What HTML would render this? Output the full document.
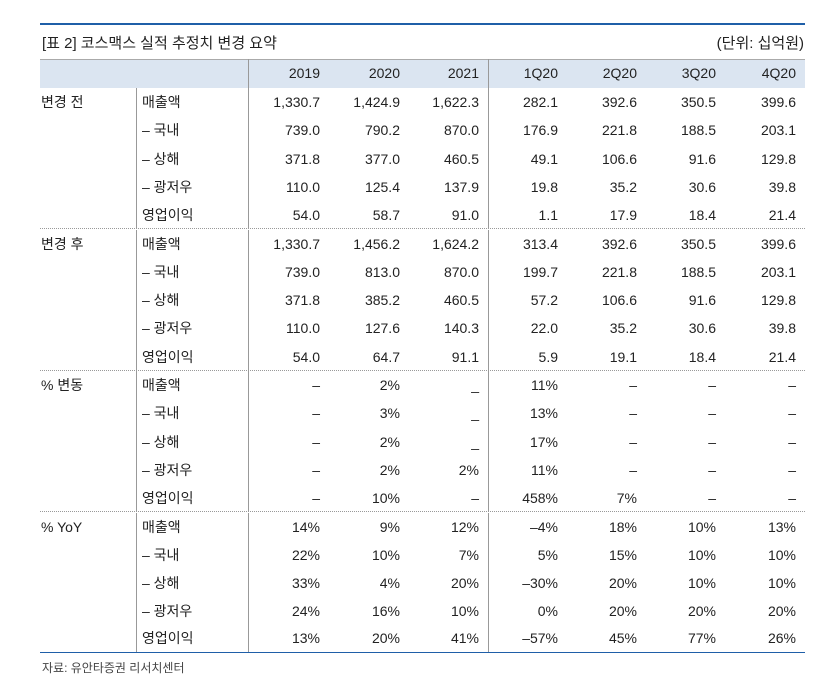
<!DOCTYPE html>
<html><head><meta charset="utf-8"><style>
body{margin:0;width:818px;height:683px;background:#fff;font-family:"Liberation Sans","Noto Sans CJK KR",sans-serif;color:#222;position:relative;overflow:hidden}
.a{position:absolute}
.row{position:absolute;left:40px;width:765px;height:28.3px;display:flex;font-size:14px;line-height:28.3px}
.row div{box-sizing:border-box}
.c0{width:96px;padding-left:1px}
.c1{width:112px;padding-left:5px;border-left:1px solid #999}
.d{text-align:right;border-left:none}
.w1{width:79px;padding-right:7px;border-left:1px solid #999}
.w2{width:79px;padding-right:6px}
.w3{width:82px;padding-right:9px}
.w4{width:78px;padding-right:8px;border-left:1px solid #999}
.w5{width:79px;padding-right:8px}
.w6{width:79px;padding-right:8px}
.w7{width:81px;padding-right:9px}
.sep{position:absolute;left:40px;width:765px;border-top:1px dotted #999;height:0}
</style></head><body>
<div class="a" style="left:40px;top:23px;width:765px;height:2px;background:#1f5fa8"></div>
<div class="a" style="left:42px;top:32px;font-size:15px">[표 2] 코스맥스 실적 추정치 변경 요약</div>
<div class="a" style="right:14px;top:32px;font-size:15px">(단위: 십억원)</div>
<div class="a" style="left:40px;top:59px;width:765px;height:29px;background:#dbe5f1;border-top:1px solid #aaa;box-sizing:border-box"></div>
<div class="row" style="top:59px;height:29px;line-height:29px"><div class="c0"></div><div class="c1" style="border-left:none"></div><div class="d w1">2019</div><div class="d w2">2020</div><div class="d w3">2021</div><div class="d w4">1Q20</div><div class="d w5">2Q20</div><div class="d w6">3Q20</div><div class="d w7">4Q20</div></div>
<div id="t"></div>
<div class="sep" style="top:228px"></div>
<div class="sep" style="top:370px"></div>
<div class="sep" style="top:511px"></div>
<div class="a" style="left:40px;top:652px;width:765px;height:1px;background:#1f5fa8"></div>
<div class="a" style="left:42px;top:659px;font-size:12px;color:#444">자료: 유안타증권 리서치센터</div>
<div class="row" style="top:88px"><div class="c0">변경 전</div><div class="c1">매출액</div><div class="d w1">1,330.7</div><div class="d w2">1,424.9</div><div class="d w3">1,622.3</div><div class="d w4">282.1</div><div class="d w5">392.6</div><div class="d w6">350.5</div><div class="d w7">399.6</div></div>
<div class="row" style="top:116.3px"><div class="c0"></div><div class="c1">– 국내</div><div class="d w1">739.0</div><div class="d w2">790.2</div><div class="d w3">870.0</div><div class="d w4">176.9</div><div class="d w5">221.8</div><div class="d w6">188.5</div><div class="d w7">203.1</div></div>
<div class="row" style="top:144.6px"><div class="c0"></div><div class="c1">– 상해</div><div class="d w1">371.8</div><div class="d w2">377.0</div><div class="d w3">460.5</div><div class="d w4">49.1</div><div class="d w5">106.6</div><div class="d w6">91.6</div><div class="d w7">129.8</div></div>
<div class="row" style="top:172.9px"><div class="c0"></div><div class="c1">– 광저우</div><div class="d w1">110.0</div><div class="d w2">125.4</div><div class="d w3">137.9</div><div class="d w4">19.8</div><div class="d w5">35.2</div><div class="d w6">30.6</div><div class="d w7">39.8</div></div>
<div class="row" style="top:201.2px"><div class="c0"></div><div class="c1">영업이익</div><div class="d w1">54.0</div><div class="d w2">58.7</div><div class="d w3">91.0</div><div class="d w4">1.1</div><div class="d w5">17.9</div><div class="d w6">18.4</div><div class="d w7">21.4</div></div>
<div class="row" style="top:229.5px"><div class="c0">변경 후</div><div class="c1">매출액</div><div class="d w1">1,330.7</div><div class="d w2">1,456.2</div><div class="d w3">1,624.2</div><div class="d w4">313.4</div><div class="d w5">392.6</div><div class="d w6">350.5</div><div class="d w7">399.6</div></div>
<div class="row" style="top:257.8px"><div class="c0"></div><div class="c1">– 국내</div><div class="d w1">739.0</div><div class="d w2">813.0</div><div class="d w3">870.0</div><div class="d w4">199.7</div><div class="d w5">221.8</div><div class="d w6">188.5</div><div class="d w7">203.1</div></div>
<div class="row" style="top:286.1px"><div class="c0"></div><div class="c1">– 상해</div><div class="d w1">371.8</div><div class="d w2">385.2</div><div class="d w3">460.5</div><div class="d w4">57.2</div><div class="d w5">106.6</div><div class="d w6">91.6</div><div class="d w7">129.8</div></div>
<div class="row" style="top:314.4px"><div class="c0"></div><div class="c1">– 광저우</div><div class="d w1">110.0</div><div class="d w2">127.6</div><div class="d w3">140.3</div><div class="d w4">22.0</div><div class="d w5">35.2</div><div class="d w6">30.6</div><div class="d w7">39.8</div></div>
<div class="row" style="top:342.7px"><div class="c0"></div><div class="c1">영업이익</div><div class="d w1">54.0</div><div class="d w2">64.7</div><div class="d w3">91.1</div><div class="d w4">5.9</div><div class="d w5">19.1</div><div class="d w6">18.4</div><div class="d w7">21.4</div></div>
<div class="row" style="top:371px"><div class="c0">% 변동</div><div class="c1">매출액</div><div class="d w1">–</div><div class="d w2">2%</div><div class="d w3">_</div><div class="d w4">11%</div><div class="d w5">–</div><div class="d w6">–</div><div class="d w7">–</div></div>
<div class="row" style="top:399.3px"><div class="c0"></div><div class="c1">– 국내</div><div class="d w1">–</div><div class="d w2">3%</div><div class="d w3">_</div><div class="d w4">13%</div><div class="d w5">–</div><div class="d w6">–</div><div class="d w7">–</div></div>
<div class="row" style="top:427.6px"><div class="c0"></div><div class="c1">– 상해</div><div class="d w1">–</div><div class="d w2">2%</div><div class="d w3">_</div><div class="d w4">17%</div><div class="d w5">–</div><div class="d w6">–</div><div class="d w7">–</div></div>
<div class="row" style="top:455.9px"><div class="c0"></div><div class="c1">– 광저우</div><div class="d w1">–</div><div class="d w2">2%</div><div class="d w3">2%</div><div class="d w4">11%</div><div class="d w5">–</div><div class="d w6">–</div><div class="d w7">–</div></div>
<div class="row" style="top:484.2px"><div class="c0"></div><div class="c1">영업이익</div><div class="d w1">–</div><div class="d w2">10%</div><div class="d w3">–</div><div class="d w4">458%</div><div class="d w5">7%</div><div class="d w6">–</div><div class="d w7">–</div></div>
<div class="row" style="top:512.5px"><div class="c0">% YoY</div><div class="c1">매출액</div><div class="d w1">14%</div><div class="d w2">9%</div><div class="d w3">12%</div><div class="d w4">–4%</div><div class="d w5">18%</div><div class="d w6">10%</div><div class="d w7">13%</div></div>
<div class="row" style="top:540.8px"><div class="c0"></div><div class="c1">– 국내</div><div class="d w1">22%</div><div class="d w2">10%</div><div class="d w3">7%</div><div class="d w4">5%</div><div class="d w5">15%</div><div class="d w6">10%</div><div class="d w7">10%</div></div>
<div class="row" style="top:569.1px"><div class="c0"></div><div class="c1">– 상해</div><div class="d w1">33%</div><div class="d w2">4%</div><div class="d w3">20%</div><div class="d w4">–30%</div><div class="d w5">20%</div><div class="d w6">10%</div><div class="d w7">10%</div></div>
<div class="row" style="top:597.4px"><div class="c0"></div><div class="c1">– 광저우</div><div class="d w1">24%</div><div class="d w2">16%</div><div class="d w3">10%</div><div class="d w4">0%</div><div class="d w5">20%</div><div class="d w6">20%</div><div class="d w7">20%</div></div>
<div class="row" style="top:623.7px;height:28.3px"><div class="c0"></div><div class="c1">영업이익</div><div class="d w1">13%</div><div class="d w2">20%</div><div class="d w3">41%</div><div class="d w4">–57%</div><div class="d w5">45%</div><div class="d w6">77%</div><div class="d w7">26%</div></div>
</body></html>
